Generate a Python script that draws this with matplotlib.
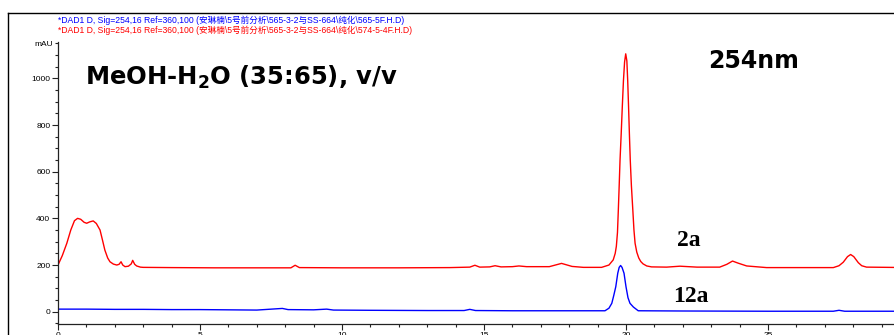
import numpy as np
import matplotlib.pyplot as plt
from matplotlib.lines import Line2D
from matplotlib.ticker import MultipleLocator

plt.rcParams['font.family'] = ['Liberation Sans', 'Noto Sans CJK SC', 'DejaVu Sans']

# retention time (min) / absorbance (mAU), compound 2a
t_2a = [0.00, 0.15, 0.31, 0.45, 0.58, 0.69, 0.80, 0.92, 1.01, 1.12, 1.24, 1.35,
        1.48, 1.57, 1.65, 1.75, 1.83, 1.95, 2.07, 2.15, 2.22, 2.28, 2.36, 2.48,
        2.58, 2.63, 2.70, 2.77, 2.90, 3.00, 4.00, 5.50, 7.00, 8.20, 8.35, 8.50,
        10.0, 12.0, 13.8, 14.5, 14.68, 14.85, 15.20, 15.39, 15.60, 16.00, 16.23,
        16.50, 17.30, 17.73, 18.10, 18.50, 19.14, 19.40, 19.55, 19.62, 19.66,
        19.70, 19.73, 19.76, 19.79, 19.83, 19.87, 19.91, 19.95, 19.99, 20.03,
        20.06, 20.09, 20.12, 20.15, 20.19, 20.24, 20.28, 20.32, 20.38, 20.45,
        20.52, 20.60, 20.73, 20.90, 21.43, 21.90, 22.50, 23.30, 23.55,
        23.75, 23.95, 24.25, 24.95, 27.30, 27.50, 27.65, 27.80, 27.91, 28.02,
        28.18, 28.30, 28.47, 30.00]
mau_2a = [200, 240, 293, 350, 390, 400, 396, 383, 379, 385, 389, 378,
          350, 305, 264, 230, 214, 204, 200, 203, 214, 200, 193, 195,
          205, 220, 203, 196, 191, 190, 189, 188, 188, 188, 199, 189,
          188, 188, 189, 191, 199, 191, 192, 197, 192, 193, 196,
          193, 193, 207, 194, 190, 190, 200, 222, 250, 280,
          340, 436, 540, 650, 760, 879, 990, 1070, 1105, 1075,
          990, 879, 760, 650, 540, 436, 350, 293, 255, 230,
          215, 205, 196, 192, 191, 195, 191, 191, 203,
          217, 208, 196, 189, 189, 197, 212, 236, 245, 236,
          210, 197, 191, 189]

# compound 12a
t_12a = [0.00, 1.00, 2.00, 3.00, 4.00, 5.00, 6.00, 7.00, 7.90, 8.10, 9.00, 9.46,
         9.70, 11.0, 13.0, 14.30, 14.50, 14.70, 16.0, 18.0, 19.26, 19.40, 19.50,
         19.57, 19.64, 19.71, 19.76, 19.81, 19.86, 19.93, 20.00, 20.07, 20.14,
         20.26, 20.43, 22.0, 25.0, 27.30, 27.50, 27.70, 30.0]
mau_12a = [11, 11, 10, 10, 9, 9, 8, 7, 14, 9, 8, 11,
           7, 6, 5, 5, 10, 5, 4, 4, 4, 15, 36,
           70, 107, 165, 190, 198, 190, 165, 107, 60, 36,
           20, 4, 3, 2, 2, 6, 2, 2]

hdr_12a = "*DAD1 D, Sig=254,16 Ref=360,100 (安琳楠\\5号前分析\\565-3-2与SS-664\\纯化\\565-5F.H.D)"
hdr_2a = "*DAD1 D, Sig=254,16 Ref=360,100 (安琳楠\\5号前分析\\565-3-2与SS-664\\纯化\\574-5-4F.H.D)"

W, H = 894, 335
fig = plt.figure(figsize=(W / 100, H / 100), dpi=100)
ax = fig.add_axes([58 / W, 10.7 / H, 30 * 28.4 / W, 282.6 / H])

ax.plot(t_2a, mau_2a, color='#ff0000', lw=1.0)
ax.plot(t_12a, mau_12a, color='#0000ff', lw=1.0)

ax.set_xlim(0, 30)
ax.set_ylim(-54, 1157)
ax.xaxis.set_major_locator(MultipleLocator(5))
ax.xaxis.set_minor_locator(MultipleLocator(1))
ax.yaxis.set_major_locator(MultipleLocator(200))
ax.yaxis.set_minor_locator(MultipleLocator(50))
ax.tick_params(which='both', direction='out', width=0.8, color='#222222',
               labelsize=6, pad=1.5)
ax.tick_params(which='major', length=4)
ax.tick_params(which='minor', length=2.5)
for side in ('top', 'right'):
    ax.spines[side].set_visible(False)
for side in ('left', 'bottom'):
    ax.spines[side].set_color('#222222')
    ax.spines[side].set_linewidth(0.9)

fig.text(53 / W, 1 - 45 / H, "mAU", ha='right', va='center', fontsize=6)

# signal headers
fig.text(58 / W, 1 - 20 / H, hdr_12a, color='#0000ff', fontsize=6.2,
         ha='left', va='center')
fig.text(58 / W, 1 - 30 / H, hdr_2a, color='#ff0000', fontsize=6.2,
         ha='left', va='center')

fig.text(85 / W, 1 - 77 / H, "MeOH-H$_\\mathbf{2}$O (35:65), v/v", fontsize=17.5,
         fontweight='bold', family='DejaVu Sans', ha='left', va='center')
fig.text(708 / W, 1 - 61 / H, "254nm", fontsize=17, fontweight='bold',
         family='DejaVu Sans', ha='left', va='center')
fig.text(677 / W, 1 - 241 / H, "2a", fontsize=17, fontweight='bold',
         family='Liberation Serif', ha='left', va='center')
fig.text(673 / W, 1 - 296 / H, "12a", fontsize=17, fontweight='bold',
         family='Liberation Serif', ha='left', va='center')

# outer frame
fig.add_artist(Line2D([8 / W, 8 / W], [0, 1 - 13 / H], transform=fig.transFigure,
                      color='black', lw=1))
fig.add_artist(Line2D([8 / W, 1], [1 - 13 / H, 1 - 13 / H], transform=fig.transFigure,
                      color='black', lw=1))

fig.savefig("out.png", dpi=100)
